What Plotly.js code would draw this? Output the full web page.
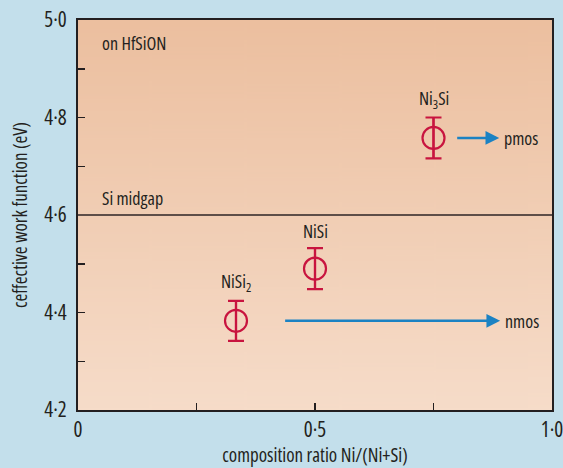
<!DOCTYPE html>
<html>
<head>
<meta charset="utf-8">
<script src="https://cdn.plot.ly/plotly-3.0.1.min.js"></script>
<style>
html,body{margin:0;padding:0;background:#c3dfeb;}
#chart{width:563px;height:468px;}
text{font-stretch:75% !important;}
</style>
</head>
<body>
<div id="chart"></div>
<script>
// ---- data ----
const composition = [1/3, 0.5, 0.75];
const workFunction = [4.383, 4.49, 4.758];
const errorBar = [0.041, 0.042, 0.042];
const phaseLabels = ['NiSi<sub>2</sub>', 'NiSi', 'Ni<sub>3</sub>Si'];
const xTickVals = [0, 0.5, 1.0];
const xTickText = ['0', '0·5', '1·0'];
const xMinorTickVals = [0.25, 0.75];
const yTickVals = [4.2, 4.4, 4.6, 4.8, 5.0];
const yTickText = ['4·2', '4·4', '4·6', '4·8', '5·0'];
const yMinorTickVals = [4.3, 4.5, 4.7, 4.9];
const midgap = 4.6;
const pmosArrow = {from: 0.80, labelAt: 0.934, y: 4.758, label: 'pmos'};
const nmosArrow = {from: 0.437, labelAt: 0.936, y: 4.383, label: 'nmos'};

const FONT = '"Open Sans", "DejaVu Sans Condensed", sans-serif';
const TXT = '#231f20';
const W = 500;

// gradient background for the plot area
const cv = document.createElement('canvas');
cv.width = 10; cv.height = 400;
const ctx = cv.getContext('2d');
const g = ctx.createLinearGradient(0, 0, 0, 400);
g.addColorStop(0, '#ecbf9f');
g.addColorStop(1, '#f6dcc9');
ctx.fillStyle = g; ctx.fillRect(0, 0, 10, 400);
const bgURL = cv.toDataURL('image/png');

const trace = {
  x: composition,
  y: workFunction,
  type: 'scatter',
  mode: 'markers',
  marker: {symbol: 'circle-open', size: 22, color: '#c8143f', line: {width: 2.2, color: '#c8143f'}},
  error_y: {type: 'data', array: errorBar, visible: true, color: '#c8143f', thickness: 2.2, width: 8},
  hoverinfo: 'none',
  showlegend: false
};
// vertical line through each marker (the "phi" look)
const stems = {
  x: composition.flatMap(v => [v, v, null]),
  y: workFunction.flatMap((v, i) => [v - errorBar[i], v + errorBar[i], null]),
  type: 'scatter', mode: 'lines',
  line: {color: '#c8143f', width: 2.2},
  hoverinfo: 'none', showlegend: false
};

const annFont = {family: FONT, size: 18, color: TXT, weight: W};
const annotations = [];
composition.forEach((x, i) => {
  annotations.push({
    x: x, y: workFunction[i] + errorBar[i], xref: 'x', yref: 'y',
    text: phaseLabels[i], showarrow: false, yanchor: 'bottom', yshift: 3,
    font: annFont
  });
});
[pmosArrow, nmosArrow].forEach(a => {
  annotations.push({
    x: a.from, y: a.y, ax: a.labelAt, ay: a.y, xref: 'x', yref: 'y', axref: 'x', ayref: 'y',
    text: a.label, showarrow: true, arrowside: 'start', startarrowhead: 2, startarrowsize: 1.1,
    startstandoff: 3, arrowwidth: 2.5, arrowcolor: '#1b82c3', font: annFont
  });
});
annotations.push({
  x: 0.046, y: 4.953, xref: 'x', yref: 'y', text: 'on HfSiON', showarrow: false,
  xanchor: 'left', font: annFont
});
annotations.push({
  x: 0.046, y: midgap, xref: 'x', yref: 'y', text: 'Si midgap', showarrow: false,
  xanchor: 'left', yanchor: 'bottom', yshift: 3, font: annFont
});

const tickStyle = {ticks: 'inside', ticklen: 7, tickwidth: 1.5, tickcolor: '#231f20'};

const layout = {
  width: 563, height: 468,
  margin: {l: 78, r: 11, t: 20, b: 58},
  paper_bgcolor: '#c3dfeb',
  plot_bgcolor: 'rgba(0,0,0,0)',
  font: {family: FONT, color: TXT, weight: W},
  images: [{source: bgURL, xref: 'paper', yref: 'paper', x: 0, y: 1, sizex: 1, sizey: 1,
            sizing: 'stretch', layer: 'below', xanchor: 'left', yanchor: 'top'}],
  xaxis: Object.assign({
    range: [0, 1], tickmode: 'array', tickvals: xTickVals, ticktext: xTickText,
    minor: Object.assign({tickmode: 'array', tickvals: xMinorTickVals, showgrid: false}, tickStyle),
    showline: true, linecolor: '#231f20', linewidth: 2, mirror: true,
    showgrid: false, zeroline: false, ticklabeloverflow: 'allow',
    tickfont: {family: FONT, size: 21, color: TXT, weight: W},
    title: {text: 'composition ratio Ni/(Ni+Si)', font: {family: FONT, size: 19, color: TXT, weight: W}, standoff: 4}
  }, tickStyle),
  yaxis: Object.assign({
    range: [4.2, 5.0], tickmode: 'array', tickvals: yTickVals, ticktext: yTickText,
    minor: Object.assign({tickmode: 'array', tickvals: yMinorTickVals, showgrid: false}, tickStyle),
    showline: true, linecolor: '#231f20', linewidth: 2, mirror: true,
    showgrid: false, zeroline: false,
    tickfont: {family: FONT, size: 21, color: TXT, weight: W},
    ticklabelstandoff: 5,
    title: {text: 'ceffective work function (eV)', font: {family: FONT, size: 19, color: TXT, weight: W}, standoff: 12}
  }, tickStyle),
  shapes: [{type: 'line', xref: 'paper', yref: 'y', x0: 0, x1: 1, y0: midgap, y1: midgap,
            line: {color: '#5e4e48', width: 2}}],
  annotations: annotations
};

Plotly.newPlot('chart', [stems, trace], layout, {displayModeBar: false, staticPlot: true});
</script>
</body>
</html>
